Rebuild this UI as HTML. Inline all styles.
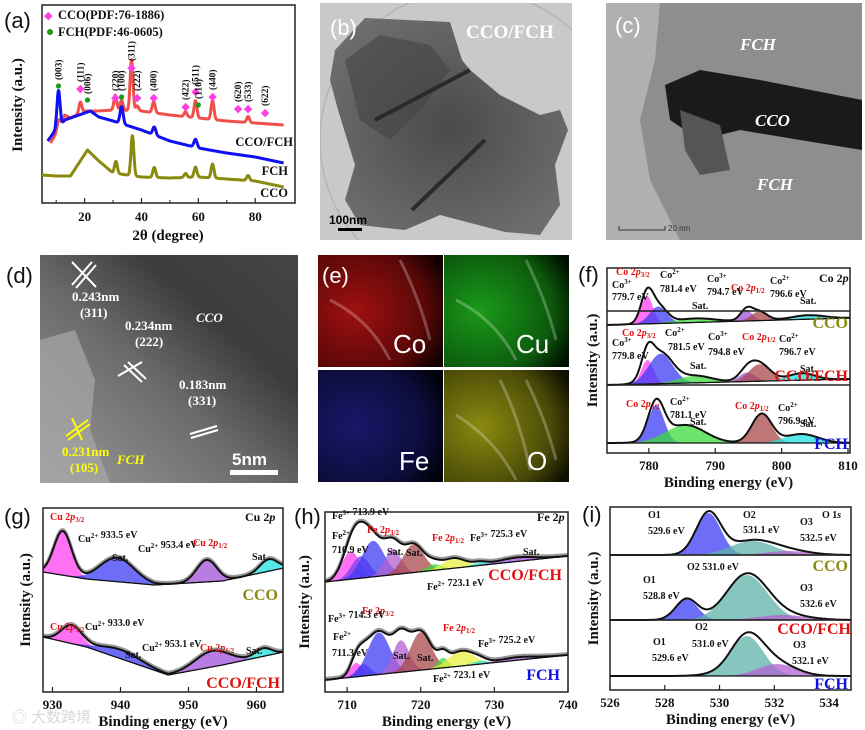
<!DOCTYPE html>
<html><head><meta charset="utf-8"><style>
html,body{margin:0;padding:0;background:#fff;}
svg{display:block;font-family:"Liberation Serif",serif;}
.lb{font-family:"Liberation Serif",serif;font-weight:bold;font-size:10px;fill:#111;}
.pl{font-family:"Liberation Sans",sans-serif;font-size:22px;fill:#111;}
.tk{font-family:"Liberation Serif",serif;font-weight:bold;font-size:13px;fill:#111;text-anchor:middle;}
.at{font-family:"Liberation Serif",serif;font-weight:bold;font-size:15px;fill:#111;text-anchor:middle;}
</style></head><body>
<svg id="fig" width="865" height="730" viewBox="0 0 865 730" xmlns="http://www.w3.org/2000/svg">
<defs>
<radialGradient id="gb" cx="0.5" cy="0.5" r="0.6"><stop offset="0" stop-color="#4a4a4a"/><stop offset="1" stop-color="#6e6e6e"/></radialGradient>
<linearGradient id="gd" x1="0" y1="1" x2="1" y2="0"><stop offset="0" stop-color="#9a9a9a"/><stop offset="0.45" stop-color="#6a6a6a"/><stop offset="0.7" stop-color="#3c3c3c"/><stop offset="1" stop-color="#454545"/></linearGradient>
<radialGradient id="gco" cx="0.3" cy="0.5" r="0.8"><stop offset="0" stop-color="#a01010"/><stop offset="0.7" stop-color="#5a0808"/><stop offset="1" stop-color="#100000"/></radialGradient>
<radialGradient id="gcu" cx="0.3" cy="0.5" r="0.8"><stop offset="0" stop-color="#1a9a1a"/><stop offset="0.7" stop-color="#0c5a0c"/><stop offset="1" stop-color="#001000"/></radialGradient>
<radialGradient id="gfe" cx="0.3" cy="0.5" r="0.8"><stop offset="0" stop-color="#18186a"/><stop offset="0.7" stop-color="#0c0c3a"/><stop offset="1" stop-color="#000008"/></radialGradient>
<radialGradient id="go" cx="0.3" cy="0.5" r="0.8"><stop offset="0" stop-color="#8a8a10"/><stop offset="0.7" stop-color="#4a4a08"/><stop offset="1" stop-color="#101000"/></radialGradient>
<clipPath id="clipb"><rect x="320" y="3" width="252" height="237"/></clipPath>
</defs>

<!-- (b) TEM -->
<g>
<rect x="320" y="3" width="252" height="237" fill="#c9c9c9"/>
<g clip-path="url(#clipb)">
<circle cx="470" cy="140" r="150" fill="none" stroke="#b5b5b5" stroke-width="1.5"/>
<polygon points="335,50 365,18 450,22 462,60 470,70 500,95 540,115 560,110 568,130 555,165 560,205 540,235 505,232 440,215 405,230 360,225 345,200 355,165 338,110 330,80" fill="url(#gb)"/>
<polygon points="345,60 380,35 430,45 450,70 420,110 390,140 360,120" fill="#444" opacity="0.6"/>
<line x1="375" y1="120" x2="470" y2="70" stroke="#2a2a2a" stroke-width="4"/>
<line x1="412" y1="210" x2="485" y2="140" stroke="#2a2a2a" stroke-width="4"/>
</g>
<text x="330" y="35" class="pl" style="fill:#fff">(b)</text>
<text x="466" y="38" style="font-family:'Liberation Serif',serif;font-weight:bold;font-size:19px;fill:#fff">CCO/FCH</text>
<rect x="338" y="228" width="24" height="3" fill="#000"/>
<text x="329" y="224" style="font-family:'Liberation Sans',sans-serif;font-weight:bold;font-size:12px;fill:#000">100nm</text>
</g>

<!-- (c) TEM -->
<g>
<rect x="606" y="3" width="256" height="237" fill="#b0b0b0"/>
<polygon points="660,3 862,3 862,240 680,240 650,180 640,120 655,60" fill="#8e8e8e"/>
<polygon points="665,85 700,70 760,80 862,100 862,150 800,140 740,130 700,140 670,120" fill="#1a1a1a"/>
<polygon points="680,110 720,125 730,170 700,175 685,150" fill="#555"/>
<text x="615" y="33" style="font-family:'Liberation Sans',sans-serif;font-size:22px;fill:#fff">(c)</text>
<text x="740" y="50" style="font-family:'Liberation Serif',serif;font-weight:bold;font-style:italic;font-size:17px;fill:#fff">FCH</text>
<text x="755" y="126" style="font-family:'Liberation Serif',serif;font-weight:bold;font-style:italic;font-size:17px;fill:#fff">CCO</text>
<text x="757" y="190" style="font-family:'Liberation Serif',serif;font-weight:bold;font-style:italic;font-size:17px;fill:#fff">FCH</text>
<path d="M619,226 V230 H665 V226" fill="none" stroke="#333"/>
<text x="668" y="231" style="font-family:'Liberation Sans',sans-serif;font-size:8px;fill:#333">20 nm</text>
</g>

<!-- (d) HRTEM -->
<g>
<text x="6" y="283" class="pl">(d)</text>
<rect x="40" y="255" width="258" height="228" fill="url(#gd)"/>
<polygon points="40,340 75,330 95,380 90,430 110,483 40,483" fill="#a8a8a8" opacity="0.7"/>
<g stroke="#fff" stroke-width="2"><line x1="72" y1="285" x2="92" y2="262"/><line x1="76" y1="288" x2="96" y2="265"/><line x1="72" y1="262" x2="96" y2="287"/></g>
<g stroke="#fff" stroke-width="2"><line x1="124" y1="365" x2="142" y2="382"/><line x1="128" y1="362" x2="146" y2="379"/><line x1="118" y1="376" x2="142" y2="362"/></g>
<g stroke="#fff" stroke-width="2"><line x1="190" y1="434" x2="217" y2="426"/><line x1="191" y1="438" x2="218" y2="430"/></g>
<g stroke="#ff0" stroke-width="2"><line x1="66" y1="436" x2="88" y2="420"/><line x1="68" y1="440" x2="90" y2="424"/><line x1="72" y1="418" x2="82" y2="440"/></g>
<g style="font-family:'Liberation Serif',serif;font-weight:bold;font-size:13px;fill:#fff">
<text x="72" y="301">0.243nm</text>
<text x="80" y="317">(311)</text>
<text x="125" y="330">0.234nm</text>
<text x="135" y="346">(222)</text>
<text x="179" y="389">0.183nm</text>
<text x="188" y="405">(331)</text>
<text x="196" y="322" style="font-style:italic">CCO</text>
</g>
<g style="font-family:'Liberation Serif',serif;font-weight:bold;font-size:13px;fill:#ff0">
<text x="62" y="456">0.231nm</text>
<text x="70" y="472">(105)</text>
<text x="117" y="464" style="font-style:italic">FCH</text>
</g>
<text x="232" y="465" style="font-family:'Liberation Sans',sans-serif;font-weight:bold;font-size:17px;fill:#fff">5nm</text>
<rect x="230" y="470" width="48" height="5" fill="#fff"/>
</g>

<!-- (e) EDS maps -->
<g>
<rect x="318" y="255" width="125" height="112" fill="url(#gco)"/>
<rect x="444" y="255" width="125" height="112" fill="url(#gcu)"/>
<rect x="318" y="370" width="125" height="112" fill="url(#gfe)"/>
<rect x="444" y="370" width="125" height="112" fill="url(#go)"/>
<path d="M330,300 Q370,320 390,360 M400,260 Q420,300 430,340 M456,300 Q496,320 516,360 M526,260 Q546,300 556,340 M456,415 Q496,440 516,480 M526,380 Q546,420 556,460 M500,380 Q520,420 530,470" stroke="#fff" stroke-opacity="0.25" stroke-width="3" fill="none"/>
<text x="322" y="283" class="pl" style="fill:#fff">(e)</text>
<g style="font-family:'Liberation Sans',sans-serif;font-size:26px;fill:#fff">
<text x="393" y="353">Co</text>
<text x="516" y="353">Cu</text>
<text x="399" y="470">Fe</text>
<text x="527" y="470">O</text>
</g>
</g>

<text x="12" y="722" style="font-family:'Liberation Sans','Noto Sans CJK SC',sans-serif;font-size:15px;fill:#d8d8d8">◎ 大数跨境</text>
</svg>
<script>
const NS='http://www.w3.org/2000/svg';
const svg=document.getElementById('fig');
function mk(tag,a,p){const e=document.createElementNS(NS,tag);for(const k in a)e.setAttribute(k,a[k]);(p||svg).appendChild(e);return e;}

/* ---------- (a) XRD data ---------- */
const xrdTicks=[20,40,60,80];
const xrdRedBaseX=[8,10,13,15,20,25,30,40,50,60,70,80,90];
const xrdRedBaseV=[60,70,88,85,92,92,93,92,88,85,82,80,78];
const xrdRedPeakX=[10.8,18.5,30.8,33,36.5,38.5,44.3,55.5,59,65,77.5];
const xrdRedPeakH=[8,11,15,10,51,5,11,5,17,19,6];
const xrdBlueBaseX=[7,9,11,13,20,22,25,30,40,50,60,70,80,90];
const xrdBlueBaseV=[62,70,75,83,90,92,86,82,73,62,55,50,46,40];
const xrdBluePeakX=[10.8,33,44.5,59];
const xrdBluePeakH=[38,17,8,8];
const xrdOliveBaseX=[5,10,15,18,21,25,30,40,50,60,70,80,90];
const xrdOliveBaseV=[28,27,27,40,53,42,30,26,25,26,24,22,16];
const xrdOlivePeakX=[31,36.8,44.5,55.5,59,65,77.5];
const xrdOlivePeakH=[12,40,10,4,10,14,5];
const ccoRefPeaks=[18.5,30.8,36.5,38.5,44.3,55.5,59,65,74,77.5,83.5];
const ccoRefLabels=['(111)','(220)','(311)','(222)','(400)','(422)','(511)','(440)','(620)','(533)','(622)'];
const fchRefPeaks=[10.8,21,33,60];
const fchRefLabels=['(003)','(006)','(100)','(110)'];

function interp(xs,vs,x){if(x<=xs[0])return vs[0];for(let i=1;i<xs.length;i++){if(x<=xs[i]){const t=(x-xs[i-1])/(xs[i]-xs[i-1]);return vs[i-1]+t*(vs[i]-vs[i-1]);}}return vs[vs.length-1];}
function gauss(x,c,h,s){return h*Math.exp(-0.5*((x-c)/s)*((x-c)/s));}

const A={x0:42,x1:295,y0:5,y1:203,d0:5,d1:94};
function ax(v){return A.x0+(v-A.d0)/(A.d1-A.d0)*(A.x1-A.x0);}
function ay(v){return A.y1-v;}
(function(){
  const g=mk('g',{});
  
  
  const fr=mk('rect',{x:A.x0,y:A.y0,width:A.x1-A.x0,height:A.y1-A.y0,fill:'none',stroke:'#222','stroke-width':1.5},g);
  
  
  function series(bx,bv,px,ph,sig,col,name,start){
    let d='';
    for(let x=start;x<=90;x+=0.1){let v=interp(bx,bv,x);for(let i=0;i<px.length;i++)v+=gauss(x,px[i],ph[i],sig);d+=(d?'L':'M')+ax(x).toFixed(1)+','+ay(v).toFixed(1);}
    const p=mk('path',{d:d,fill:'none',stroke:col,'stroke-width':3,'stroke-linejoin':'round'},g);
    
    
  }
  series(xrdRedBaseX,xrdRedBaseV,xrdRedPeakX,xrdRedPeakH,0.5,'#f0504a','xrd-line-cco-fch',xrdRedBaseX[0]);
  series(xrdBlueBaseX,xrdBlueBaseV,xrdBluePeakX,xrdBluePeakH,0.55,'#1010f0','xrd-line-fch',xrdBlueBaseX[0]);
  series(xrdOliveBaseX,xrdOliveBaseV,xrdOlivePeakX,xrdOlivePeakH,0.5,'#8a8a10','xrd-line-cco',xrdOliveBaseX[0]);
  xrdTicks.forEach(t=>{
    const l=mk('line',{x1:ax(t),x2:ax(t),y1:A.y1,y2:A.y1-5,stroke:'#222','stroke-width':1.2},g);
    
    
    const tx=mk('text',{x:ax(t),y:A.y1+18,class:'tk'},g);tx.textContent=t;
    
    
    const m=mk('line',{x1:ax(t-10),x2:ax(t-10),y1:A.y1,y2:A.y1-3,stroke:'#222'},g);
    
    
  });
  const labY=[88,97,67,97,97,106,91,96,108,108,112];
  ccoRefPeaks.forEach((p,i)=>{
    const x=ax(p),y=labY[i];
    const dm=mk('text',{x:x,y:y+4,'text-anchor':'middle',style:'font-size:11px;fill:#ff40e0'},g);dm.textContent='◆';
    
    
    const t=mk('text',{x:x+3,y:y-6,transform:'rotate(-90 '+(x+3)+' '+(y-6)+')',class:'lb',style:'font-size:9.5px'},g);t.textContent=ccoRefLabels[i];
    
    
  });
  const fY=[86,100,97,105];
  fchRefPeaks.forEach((p,i)=>{
    const x=ax(p),y=fY[i];
    const c=mk('circle',{cx:x,cy:y,r:2.6,fill:'#1a9a1a'},g);
    
    
    const t=mk('text',{x:x+3,y:y-6,transform:'rotate(-90 '+(x+3)+' '+(y-6)+')',class:'lb',style:'font-size:9.5px'},g);t.textContent=fchRefLabels[i];
    
    
  });
})();
</script>
<script>
/* ---------- XPS data ---------- */
// (f) Co 2p
const coCcoCenters=[779.7,781.4,787,794.7,796.6,804];
const coCcoHeights=[28,17,4,11,9,4];
const coCcoSigmas=[0.9,1.3,3,0.9,1.2,2.5];
const coCcoBaseE=[773.7,810.3];const coCcoBaseV=[-7,0];
const coMixCenters=[779.8,781.8,787,794.8,796.7,803];
const coMixHeights=[24,30,7,9,17,7];
const coMixSigmas=[0.9,1.8,2.5,1.2,1.6,2];
const coMixBaseE=[773.7,810.3];const coMixBaseV=[-2,4];
const coFchCenters=[781.1,785.5,797,803];
const coFchHeights=[38,18,29,9];
const coFchSigmas=[1.2,3,1.5,2.5];
const coFchBaseE=[773.7,810.3];const coFchBaseV=[0,0];
// (g) Cu 2p
const cuCcoCenters=[931.5,939.5,952.7,961.8];
const cuCcoHeights=[44,24,22,12];
const cuCcoSigmas=[1.3,2.5,1.5,1.3];
const cuCcoBaseE=[928.6,935,945,955,964];const cuCcoBaseV=[13,6,0,4,17];
const cuMixCenters=[932.8,940,953.5,961];
const cuMixHeights=[18,9,16,8];
const cuMixSigmas=[1.5,3,2.5,1.2];
const cuMixBaseE=[928.6,935,947,955,964];const cuMixBaseV=[38,28,0,10,23];
// (h) Fe 2p
const feMixCenters=[710.5,711.8,713.5,716.2,719,721.8,724.5,728,733];
const feMixHeights=[28,22,36,26,28,6,10,3,4];
const feMixSigmas=[1.2,1.2,1.5,1.1,1.4,1,1.5,1,2.5];
const feMixBaseE=[707,740];const feMixBaseV=[0,26];
const feFchCenters=[711.2,712.2,714.3,717.3,720,723,725.5,728,733];
const feFchHeights=[14,12,42,32,38,10,15,3,3];
const feFchSigmas=[0.8,0.9,1.5,1.1,1.4,0.7,1.7,1,2.5];
const feFchBaseE=[707,740];const feFchBaseV=[0,25];
// (i) O 1s
const oCcoCenters=[529.6,531.2,532.5];const oCcoHeights=[42,14,4];const oCcoSigmas=[0.45,0.8,0.8];
const oMixCenters=[528.8,531.0,532.3];const oMixHeights=[21,45,5];const oMixSigmas=[0.4,0.75,0.9];
const oFchCenters=[529.6,531.0,532.1];const oFchHeights=[1,40,12];const oFchSigmas=[0.5,0.6,0.7];
const flatE=[0,2000];const flatV=[0,0];

function panel(P){
  const g=mk('g',{});
  
  
  const sx=v=>P.x0+(v-P.d0)/(P.d1-P.d0)*(P.x1-P.x0);
  P.spectra.forEach(S=>{
    const base=e=>S.y0-interp(S.be,S.bv,e);
    const N=240;
    S.c.forEach((c,i)=>{
      let top='',bot='';
      const lo=Math.max(P.d0,c-4*S.s[i]),hi=Math.min(P.d1,c+4*S.s[i]);
      for(let k=0;k<=60;k++){const e=lo+(hi-lo)*k/60;top+=(k?'L':'M')+sx(e).toFixed(1)+','+(base(e)-gauss(e,c,S.h[i],S.s[i])).toFixed(1);}
      for(let k=60;k>=0;k--){const e=lo+(hi-lo)*k/60;bot+='L'+sx(e).toFixed(1)+','+base(e).toFixed(1);}
      const p=mk('path',{d:top+bot+'Z',fill:S.col[i],'fill-opacity':0.75,stroke:'none'},g);
      
      
    });
    let env='',bl='';
    for(let k=0;k<=N;k++){const e=P.d0+(P.d1-P.d0)*k/N;let v=0;S.c.forEach((c,i)=>v+=gauss(e,c,S.h[i],S.s[i]));env+=(k?'L':'M')+sx(e).toFixed(1)+','+(base(e)-v).toFixed(1);bl+=(k?'L':'M')+sx(e).toFixed(1)+','+base(e).toFixed(1);}
    if(S.raw){const r=mk('path',{d:env,fill:'none',stroke:'#9a9a9a','stroke-width':3,transform:'translate(0,-1.5)'},g);
      
      }
    const b=mk('path',{d:bl,fill:'none',stroke:'#111','stroke-width':1.3},g);
    
    
    const en=mk('path',{d:env,fill:'none',stroke:'#111','stroke-width':2},g);
    
    
  });
  (P.dividers||[]).forEach(y=>{const l=mk('line',{x1:P.x0,x2:P.x1,y1:y,y2:y,stroke:'#222','stroke-width':1.5},g);
    
    });
  const fr=mk('rect',{x:P.x0,y:P.y0,width:P.x1-P.x0,height:P.y1-P.y0,fill:'none',stroke:'#222','stroke-width':1.5},g);
  
  
  P.ticks.forEach(t=>{
    const l=mk('line',{x1:sx(t),x2:sx(t),y1:P.y1,y2:P.y1-5,stroke:'#222','stroke-width':1.2},g);
    
    
    const tx=mk('text',{x:sx(t),y:P.y1+17,class:'tk'},g);tx.textContent=t;
    
    
  });
  const at=mk('text',{x:(P.x0+P.x1)/2,y:P.y1+34,class:'at'},g);at.textContent='Binding energy (eV)';
  
  
  const yt=mk('text',{x:P.yx,y:(P.y0+P.y1)/2,class:'at',transform:'rotate(-90 '+P.yx+' '+((P.y0+P.y1)/2)+')'},g);yt.textContent='Intensity (a.u.)';
  
  
  const pl=mk('text',{x:P.lx,y:P.ly,class:'pl'},g);pl.textContent=P.label;
  
  
  P.texts.forEach(T=>{
    const t=mk('text',{x:T[0],y:T[1],class:'lb','text-anchor':T[4]||'start',style:T[3]||''},g);t.innerHTML=T[2];
    
    
  });
}
const MAG='#ff40f0',BLU='#3c3cf5',GRN='#3cdc3c',PUR='#a050d8',BRN='#a84848',CYN='#20e0e0',YEL='#e8f040',VIO='#b060d0',TEA='#5fb3a8';
const R='fill:#e01010',OL='fill:#8a8a10;font-size:16px',RD='fill:#e01010;font-size:16px',BL='fill:#1010e0;font-size:16px';
const sub=(a,b)=>a+'<tspan font-style="italic">p</tspan><tspan font-size="7" dy="2">'+b+'</tspan>';
const sup='<tspan font-size="7" dy="-4">';

panel({name:'panel-f-co2p-xps',x0:607,x1:850,y0:268,y1:453,d0:773.7,d1:810.3,ticks:[780,790,800,810],yx:597,lx:578,ly:282,label:'(f)',dividers:[311,385],
 spectra:[
  {y0:318,be:coCcoBaseE,bv:coCcoBaseV,c:coCcoCenters,h:coCcoHeights,s:coCcoSigmas,col:[MAG,BLU,GRN,PUR,BRN,CYN]},
  {y0:383,be:coMixBaseE,bv:coMixBaseV,c:coMixCenters,h:coMixHeights,s:coMixSigmas,col:[MAG,BLU,GRN,PUR,BRN,CYN]},
  {y0:443,be:coFchBaseE,bv:coFchBaseV,c:coFchCenters,h:coFchHeights,s:coFchSigmas,col:[BLU,GRN,BRN,CYN]}],
 texts:[[616,275,sub('Co 2','3/2'),R],[612,288,'Co'+sup+'3+</tspan>'],[612,300,'779.7 eV'],[660,278,'Co'+sup+'2+</tspan>'],[660,292,'781.4 eV'],[692,309,'Sat.'],[707,282,'Co'+sup+'3+</tspan>'],[707,295,'794.7 eV'],[731,291,sub('Co 2','1/2'),R],[770,284,'Co'+sup+'2+</tspan>'],[770,297,'796.6 eV'],[800,304,'Sat.'],[819,282,'Co 2<tspan font-style="italic">p</tspan>','font-size:12px'],[848,328,'CCO',OL,'end'],
  [622,336,sub('Co 2','3/2'),R],[612,346,'Co'+sup+'3+</tspan>'],[612,359,'779.8 eV'],[665,336,'Co'+sup+'2+</tspan>'],[668,350,'781.5 eV'],[690,369,'Sat.'],[708,340,'Co'+sup+'3+</tspan>'],[708,355,'794.8 eV'],[742,340,sub('Co 2','1/2'),R],[779,342,'Co'+sup+'2+</tspan>'],[779,355,'796.7 eV'],[800,372,'Sat.'],[848,381,'CCO/FCH',RD,'end'],
  [626,407,sub('Co 2','3/2'),R],[670,405,'Co'+sup+'2+</tspan>'],[670,418,'781.1 eV'],[690,425,'Sat.'],[735,409,sub('Co 2','1/2'),R],[778,411,'Co'+sup+'2+</tspan>'],[778,424,'796.9 eV'],[800,427,'Sat.'],[848,449,'FCH',BL,'end']]
});

panel({name:'panel-g-cu2p-xps',x0:43,x1:283,y0:508,y1:692,d0:928.6,d1:963.9,ticks:[930,940,950,960],yx:30,lx:4,ly:524,label:'(g)',
 spectra:[
  {y0:585,be:cuCcoBaseE,bv:cuCcoBaseV,c:cuCcoCenters,h:cuCcoHeights,s:cuCcoSigmas,col:[MAG,BLU,PUR,CYN],raw:1},
  {y0:675,be:cuMixBaseE,bv:cuMixBaseV,c:cuMixCenters,h:cuMixHeights,s:cuMixSigmas,col:[MAG,BLU,PUR,CYN],raw:1}],
 texts:[[50,520,sub('Cu 2','3/2'),R],[245,521,'Cu 2<tspan font-style="italic">p</tspan>','font-size:12px'],[78,542,'Cu'+sup+'2+</tspan> 933.5 eV'],[112,561,'Sat.'],[138,552,'Cu'+sup+'2+</tspan> 953.4 eV'],[193,546,sub('Cu 2','1/2'),R],[252,560,'Sat.'],[278,600,'CCO',OL,'end'],
  [50,630,sub('Cu 2','3/2'),R],[85,630,'Cu'+sup+'2+</tspan> 933.0 eV'],[125,658,'Sat.'],[142,651,'Cu'+sup+'2+</tspan> 953.1 eV'],[200,651,sub('Cu 2','1/2'),R],[246,654,'Sat.'],[280,688,'CCO/FCH',RD,'end']]
});

panel({name:'panel-h-fe2p-xps',x0:325,x1:568,y0:512,y1:692,d0:707,d1:740,ticks:[710,720,730,740],yx:309,lx:294,ly:524,label:'(h)',
 spectra:[
  {y0:582,be:feMixBaseE,bv:feMixBaseV,c:feMixCenters,h:feMixHeights,s:feMixSigmas,col:[MAG,'#7a3cf0',BLU,VIO,BRN,GRN,YEL,CYN,PUR],raw:1},
  {y0:680,be:feFchBaseE,bv:feFchBaseV,c:feFchCenters,h:feFchHeights,s:feFchSigmas,col:[MAG,'#7a3cf0',BLU,VIO,BRN,GRN,YEL,CYN,PUR],raw:1}],
 texts:[[332,519,'Fe'+sup+'3+</tspan> 713.9 eV'],[537,521,'Fe 2<tspan font-style="italic">p</tspan>','font-size:12px'],[332,539,'Fe'+sup+'2+</tspan>'],[332,553,'710.9 eV'],[367,533,sub('Fe 2','3/2'),R],[387,555,'Sat.'],[406,556,'Sat.'],[432,541,sub('Fe 2','1/2'),R],[470,541,'Fe'+sup+'3+</tspan> 725.3 eV'],[523,555,'Sat.'],[562,580,'CCO/FCH',RD,'end'],[427,590,'Fe'+sup+'2+</tspan> 723.1 eV'],
  [362,614,sub('Fe 2','3/2'),R],[328,622,'Fe'+sup+'3+</tspan> 714.3 eV'],[333,640,'Fe'+sup+'2+</tspan>'],[332,656,'711.3 eV'],[393,659,'Sat.'],[417,661,'Sat.'],[443,631,sub('Fe 2','1/2'),R],[478,647,'Fe'+sup+'3+</tspan> 725.2 eV'],[560,680,'FCH',BL,'end'],[433,682,'Fe'+sup+'2+</tspan> 723.1 eV']]
});

panel({name:'panel-i-o1s-xps',x0:610,x1:851,y0:507,y1:690,d0:526,d1:534.8,ticks:[526,528,530,532,534],yx:598,lx:582,ly:522,label:'(i)',dividers:[555,620],
 spectra:[
  {y0:555,be:flatE,bv:flatV,c:oCcoCenters,h:oCcoHeights,s:oCcoSigmas,col:[BLU,TEA,VIO]},
  {y0:620,be:flatE,bv:flatV,c:oMixCenters,h:oMixHeights,s:oMixSigmas,col:[BLU,TEA,VIO]},
  {y0:676,be:flatE,bv:flatV,c:oFchCenters,h:oFchHeights,s:oFchSigmas,col:[BLU,TEA,VIO]}],
 texts:[[648,518,'O1'],[648,534,'529.6 eV'],[743,518,'O2'],[743,533,'531.1 eV'],[800,525,'O3'],[800,541,'532.5 eV'],[822,518,'O 1<tspan font-style="italic">s</tspan>'],[848,571,'CCO',OL,'end'],
  [643,583,'O1'],[643,599,'528.8 eV'],[687,570,'O2 531.0 eV'],[800,591,'O3'],[800,607,'532.6 eV'],[851,634,'CCO/FCH',RD,'end'],
  [695,630,'O2'],[692,647,'531.0 eV'],[653,645,'O1'],[652,661,'529.6 eV'],[793,648,'O3'],[792,664,'532.1 eV'],[848,689,'FCH',BL,'end']]
});

/* panel (a) static texts */
(function(){
  const items=[['(a)',4,28,'pl',''],['Intensity (a.u.)',22,105,'at','rot'],['2θ (degree)',168,240,'at',''],['CCO/FCH',293,146,'lb','end'],['FCH',288,175,'lb','end'],['CCO',288,197,'lb','end'],['CCO(PDF:76-1886)',58,19,'lb',''],['FCH(PDF:46-0605)',58,36,'lb','']];
  items.forEach(it=>{
    const a={x:it[1],y:it[2],class:it[3]};
    if(it[4]==='rot')a.transform='rotate(-90 '+it[1]+' '+it[2]+')';
    if(it[4]==='end')a['text-anchor']='end';
    const t=mk('text',a);t.textContent=it[0];
    if(it[3]==='lb')t.setAttribute('style','font-size:12.5px');
    
    
  });
  const d=mk('text',{x:44,y:19,style:'font-size:11px;fill:#ff40e0'});d.textContent='◆';
  
  
  const c=mk('circle',{cx:50,cy:32,r:3,fill:'#1a9a1a'});
  
  
})();
</script>
</body></html>
